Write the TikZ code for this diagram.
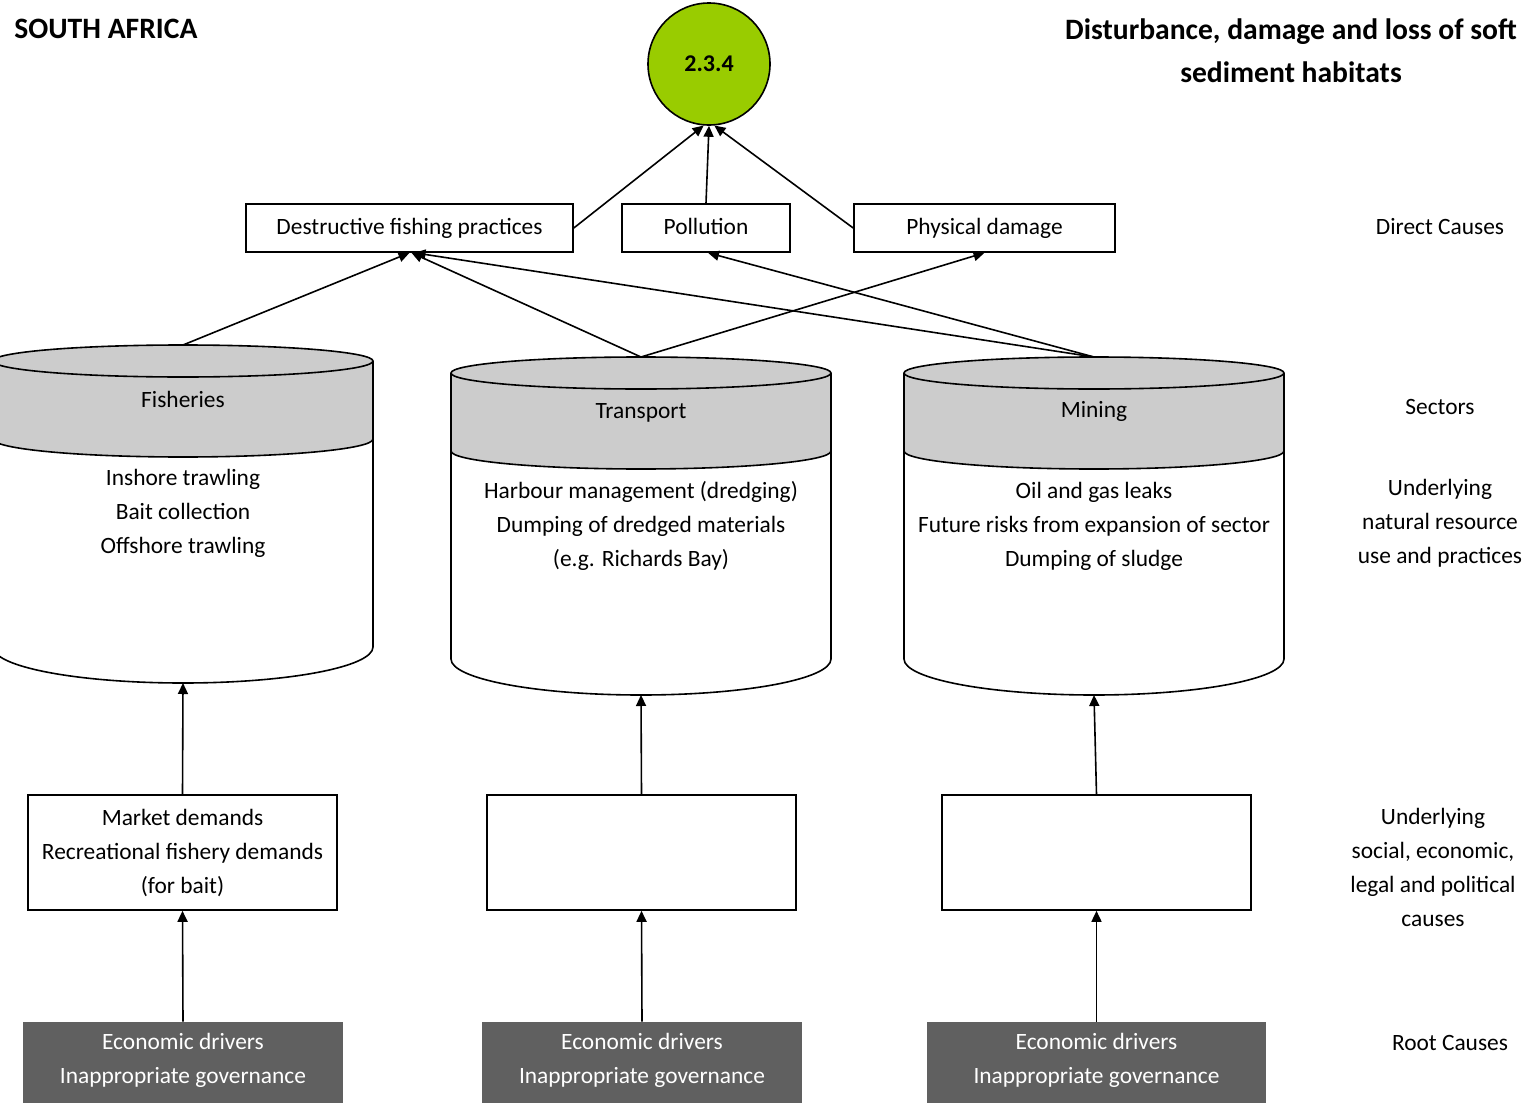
\documentclass[tikz,border=0pt]{standalone}
\usepackage{fontspec}
\setmainfont{Carlito}
\usetikzlibrary{arrows.meta}
\definecolor{goalgreen}{RGB}{153,204,0}
\definecolor{bandgray}{RGB}{204,204,204}
\definecolor{rootgray}{RGB}{96,96,96}

\begin{document}
\begin{tikzpicture}[x=0.5pt,y=-0.5pt,
  txt/.style={font=\fontsize{11.7}{17}\selectfont, align=center, inner sep=0pt},
  box/.style={draw, line width=0.8pt, fill=white, txt},
  rootbox/.style={fill=rootgray, minimum height=44pt, inner sep=0pt},
  arr/.style={line width=0.8pt, -{Triangle[length=5.5pt,width=5pt]}},
  head/.style={font=\fontsize{14.8}{21.5}\selectfont\bfseries, inner sep=0pt, align=center},
  sector/.pic={
    % white body of the drum
    \fill[white] (-190,0) -- (-190,286)
      arc[start angle=180,end angle=0,x radius=190,y radius=36] -- (190,0) -- cycle;
    % grey lid band
    \fill[bandgray] (-190,0) -- (-190,78)
      arc[start angle=180,end angle=0,x radius=190,y radius=18] -- (190,0)
      arc[start angle=0,end angle=-180,x radius=190,y radius=16] -- cycle;
    \draw[line width=0.8pt] (-190,0) -- (-190,286)
      arc[start angle=180,end angle=0,x radius=190,y radius=36] -- (190,0);
    \draw[line width=0.8pt] (0,0) ellipse [x radius=190,y radius=16];
    \draw[line width=0.8pt] (-190,78) arc[start angle=180,end angle=0,x radius=190,y radius=18];
    \coordinate (-top) at (0,-16);
    \coordinate (-bottom) at (0,322);
  }
]
\useasboundingbox (0,0) rectangle (1532,1103);
\clip (0,0) rectangle (1532,1103);
\fill[white] (0,0) rectangle (1532,1103);

% headings
\node[head, anchor=west] (country) at (14,29) {SOUTH AFRICA};
\node[head] (title) at (1291,50.5) {Disturbance, damage and loss of soft\\sediment habitats};

% target
\node[circle, draw, line width=0.8pt, fill=goalgreen, minimum size=61pt, inner sep=0pt,
      font=\fontsize{12}{14}\selectfont\bfseries] (goal) at (709,64) {2.3.4};

% direct causes
\node[box, minimum width=163.5pt, minimum height=24pt] (dfp) at (409.5,228) {Destructive fishing practices};
\node[box, minimum width=84pt, minimum height=24pt, text depth=2pt] (poll) at (706,228) {Pollution};
\node[box, minimum width=130.5pt, minimum height=24pt] (phys) at (984.5,228) {Physical damage};

% sectors
\pic (fish) at (183,361) {sector};
\pic (trans) at (641,373) {sector};
\pic (mine) at (1094,373) {sector};

\node[txt] (fishname) at (183,399) {Fisheries};
\node[txt] (fishuse) at (183,513) {Inshore trawling\\Bait collection\\Offshore trawling};
\node[txt] (transname) at (641,412.5) {Transport};
\node[txt] (transuse) at (641,526) {Harbour management (dredging)\\Dumping of dredged materials\\(e.g. Richards Bay)};
\node[txt] (minename) at (1094,411) {Mining};
\node[txt] (mineuse) at (1094,526) {Oil and gas leaks\\Future risks from expansion of sector\\Dumping of sludge};

% underlying social, economic, legal and political causes
\node[box, minimum width=154.5pt, minimum height=57.5pt] (fishdem) at (182.5,852.5) {Market demands\\Recreational fishery demands\\(for bait)};
\node[box, minimum width=154.5pt, minimum height=57.5pt] (transdem) at (641.5,852.5) {};
\node[box, minimum width=154.5pt, minimum height=57.5pt] (minedem) at (1096.5,852.5) {};

% root causes
\node[rootbox, minimum width=160pt] (fishroot) at (183,1066) {};
\node[rootbox, minimum width=160pt] (transroot) at (642,1066) {};
\node[rootbox, minimum width=169.5pt] (mineroot) at (1096.5,1066) {};
\node[txt, text=white] (fishroottxt) at (183,1060) {Economic drivers\\Inappropriate governance};
\node[txt, text=white] (transroottxt) at (642,1060) {Economic drivers\\Inappropriate governance};
\node[txt, text=white] (mineroottxt) at (1096.5,1060) {Economic drivers\\Inappropriate governance};

% row labels
\node[txt] (lbldirect) at (1440,227) {Direct Causes};
\node[txt] (lblsectors) at (1440,407) {Sectors};
\node[txt] (lbluse) at (1440,523) {Underlying\\natural resource\\use and practices};
\node[txt] (lblsocial) at (1433,867) {Underlying\\social, economic,\\legal and political\\causes};
\node[txt] (lblroot) at (1450,1043) {Root Causes};

% connectors
\draw[arr] (dfp.east) -- (goal.-95);
\draw[arr] (poll.north) -- (goal.south);
\draw[arr] (phys.west) -- (goal.-85);

\draw[arr] (fish-top) -- (dfp.south);
\draw[arr] (trans-top) -- ([xshift=1pt]dfp.south);
\draw[arr] (trans-top) -- (phys.south);
\draw[arr] (mine-top) -- ([xshift=2.5pt]dfp.south);
\draw[arr] (mine-top) -- ([xshift=1pt]poll.south);

\draw[arr] (fishdem.north) -- (fish-bottom);
\draw[arr] (transdem.north) -- (trans-bottom);
\draw[arr] (minedem.north) -- (mine-bottom);

\draw[arr] (fishroot.north) -- (fishdem.south);
\draw[arr] (transroot.north) -- (transdem.south);
\draw[arr] (mineroot.north) -- (minedem.south);
\end{tikzpicture}
\end{document}
